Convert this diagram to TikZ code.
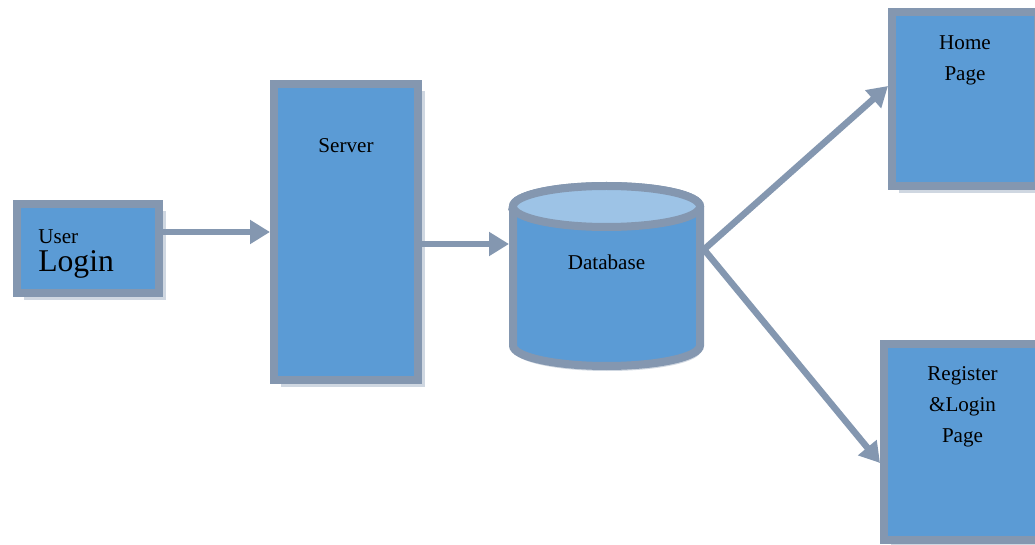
\documentclass[tikz,border=0pt]{standalone}
\usepackage{fontspec}
\setmainfont{Liberation Serif}
\usetikzlibrary{arrows.meta,shadows}
\definecolor{boxfill}{HTML}{5B9BD5}
\definecolor{boxline}{HTML}{8497B0}
\definecolor{dbtop}{HTML}{9DC3E6}
\begin{document}
\begin{tikzpicture}[
  box/.style={draw=boxline, fill=boxfill, line width=0.16cm, inner sep=0pt,
    drop shadow={shadow xshift=0.14cm, shadow yshift=-0.14cm, fill=boxline!55, opacity=0.7}},
  txt/.style={font=\fontsize{12}{17.6}\selectfont, align=center, inner sep=0pt},
  flow/.style={draw=boxline, line width=0.13cm, -{Triangle[length=0.4cm,width=0.46cm]}}
]
\clip (0,0) rectangle (20.7,10.88);
%
\node(login) [box, minimum width=2.84cm, minimum height=1.78cm,
  label={[txt, align=left, anchor=west, xshift=0.5cm, yshift=-0.11cm,
    font=\fontsize{12}{16.4}\selectfont]west:User\\{\fontsize{18}{16.4}\selectfont Login}}]
  at (1.76,5.91) {};
%
\node(server) [box, minimum width=2.88cm, minimum height=5.92cm,
  label={[txt, anchor=center, yshift=-1.31cm]north:Server}] at (6.92,6.24) {};
\draw[flow]([yshift=0.33cm]login.east) -- ([yshift=0.33cm]login.east -| server.west) {};
%
\coordinate(dbc) at (12.13,5.36);
\path[fill=boxfill, draw=boxline, line width=0.16cm,
  drop shadow={shadow xshift=0.02cm, shadow yshift=-0.1cm, fill=boxline!55, opacity=0.7}]
  ([shift={(-1.87,1.39)}]dbc) -- ([shift={(-1.87,-1.39)}]dbc)
  arc[start angle=180, end angle=360, x radius=1.87cm, y radius=0.41cm]
  -- ([shift={(1.87,1.39)}]dbc)
  arc[start angle=0, end angle=180, x radius=1.87cm, y radius=0.41cm] -- cycle;
\path[fill=dbtop, draw=boxline, line width=0.16cm]
  ([yshift=1.39cm]dbc) ellipse [x radius=1.87cm, y radius=0.41cm];
\node(db) [inner sep=0pt, outer sep=0pt, minimum width=3.9cm, minimum height=3.74cm,
  label={[txt, yshift=0.27cm]center:Database}] at (dbc) {};
\draw[flow]([yshift=-0.24cm]server.east) -- ([yshift=-0.24cm]server.east -| db.west) {};
%
\node(home) [box, minimum width=2.92cm, minimum height=3.48cm,
  label={[txt, anchor=center, yshift=-1.04cm]north:Home\\Page}] at (19.3,8.9) {};
\draw[flow]([yshift=0.53cm]db.east) -- ([yshift=0.26cm]home.west) {};
%
\node(reg) [box, minimum width=3.14cm, minimum height=3.92cm,
  label={[txt, anchor=center, yshift=-1.33cm]north:Register\\\&Login\\Page}] at (19.25,2.04) {};
\draw[flow]([yshift=0.53cm]db.east) -- ([yshift=-0.42cm]reg.west) {};
\end{tikzpicture}
\end{document}
